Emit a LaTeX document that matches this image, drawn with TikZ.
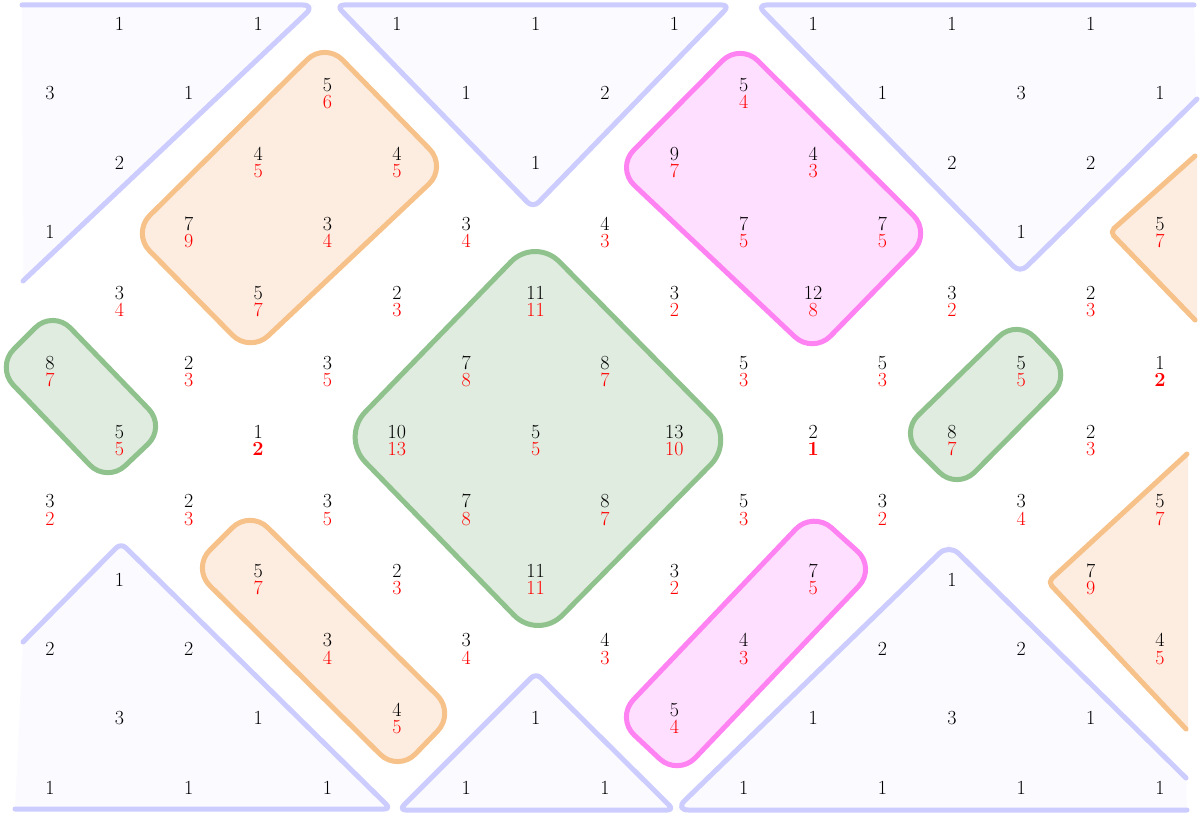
\documentclass[tikz,border=0pt]{standalone}
\definecolor{bS}{RGB}{204,204,255}
\definecolor{bF}{RGB}{250,250,255}
\definecolor{oS}{RGB}{246,194,138}
\definecolor{oF}{RGB}{253,236,224}
\definecolor{mS}{RGB}{255,130,242}
\definecolor{mF}{RGB}{255,223,255}
\definecolor{gS}{RGB}{143,194,140}
\definecolor{gF}{RGB}{224,236,224}
\definecolor{rd}{RGB}{255,0,0}
\tikzset{
  edgeline/.style={line width=3.75pt, line cap=round, line join=round},
  bluereg/.style={edgeline, draw=bS},
  orangereg/.style={edgeline, draw=oS, fill=oF},
  magentareg/.style={edgeline, draw=mS, fill=mF},
  greenreg/.style={edgeline, draw=gS, fill=gF},
  num/.style={inner sep=0pt, text height=9.6pt, text depth=0pt, anchor=center,
    font=\fontsize{15}{17}\selectfont},
  rednum/.style={num, text=rd}
}
\newcommand\onev[3]{\node[num] (n-#1-#2) at ({50+69.375*#2},{24+69.45*#1}) {#3};}
\newcommand\twov[4]{\node[num] (n-#1-#2) at ({50+69.375*#2},{24+69.45*#1-8.6}) {#3};
  \node[rednum] (m-#1-#2) at ({50+69.375*#2},{24+69.45*#1+8.6}) {#4};}
\begin{document}
\begin{tikzpicture}[x=0.75pt,y=-0.75pt]
\useasboundingbox (0,0) rectangle (1203,816);
% blue regions
\fill[bF] (22,5) -- (315,5) -- (23,281) -- cycle;
\draw[bluereg, rounded corners=9pt] (22,5) -- (315,5) -- (23,281);
\draw[bluereg, fill=bF, rounded corners=6pt] (336,5) -- (730,5) -- (533,208) -- cycle;
\fill[bF] (757,5) -- (1194,5) -- (1196,99) -- (1020,273) -- cycle;
\draw[bluereg, rounded corners=7pt] (1194,5) -- (757,5) -- (1020,273) -- (1197,99);
\fill[bF] (23,642) -- (121,543) -- (391,809) -- (15,809) -- cycle;
\draw[bluereg, rounded corners=5pt] (23,642) -- (121,543) -- (391,809) -- (15,809);
\draw[bluereg, fill=bF, rounded corners=5pt] (399,810) -- (536,673) -- (674,810) -- cycle;
\fill[bF] (1186,778) -- (949,544) -- (675,810) -- (1187,810) -- cycle;
\draw[bluereg, rounded corners=10pt] (1186,778) -- (949,544) -- (675,810) -- (1187,810);
% orange regions
\draw[orangereg, rounded corners=18.75pt] (325,42) -- (447,167) -- (250,353) -- (132,233) -- cycle;
\draw[orangereg, rounded corners=18.75pt] (250,510) -- (455,713) -- (398,772) -- (192,568) -- cycle;
\fill[oF] (1197,154) -- (1110,232) -- (1197,323) -- cycle;
\draw[edgeline, draw=oS, rounded corners=4pt] (1195,156) -- (1110,232) -- (1195,320);
\fill[oF] (1188,452) -- (1048,582) -- (1188,732) -- cycle;
\draw[edgeline, draw=oS, rounded corners=4pt] (1187,454) -- (1048,582) -- (1186,729);
% magenta regions
\draw[magentareg, rounded corners=18.75pt] (740,43) -- (931,233) -- (813,354) -- (616,168) -- cycle;
\draw[magentareg, rounded corners=18.75pt] (813,511) -- (876,568) -- (678,776) -- (616,718) -- cycle;
% green regions
\draw[greenreg, rounded corners=18.75pt] (53,310) -- (166,427) -- (107,483) -- (-4,367) -- cycle;
\draw[greenreg, rounded corners=18.75pt] (1017,319) -- (1071,375) -- (957,490) -- (900,433) -- cycle;
\draw[greenreg, rounded corners=26pt] (535,237) -- (735,440) -- (538,640) -- (341,437) -- cycle;
% numbers
\onev{0}{1}{1} \onev{0}{3}{1} \onev{0}{5}{1} \onev{0}{7}{1} \onev{0}{9}{1} \onev{0}{11}{1} \onev{0}{13}{1} \onev{0}{15}{1}
\onev{1}{0}{3} \onev{1}{2}{1} \twov{1}{4}{5}{6} \onev{1}{6}{1} \onev{1}{8}{2} \twov{1}{10}{5}{4} \onev{1}{12}{1} \onev{1}{14}{3} \onev{1}{16}{1}
\onev{2}{1}{2} \twov{2}{3}{4}{5} \twov{2}{5}{4}{5} \onev{2}{7}{1} \twov{2}{9}{9}{7} \twov{2}{11}{4}{3} \onev{2}{13}{2} \onev{2}{15}{2}
\onev{3}{0}{1} \twov{3}{2}{7}{9} \twov{3}{4}{3}{4} \twov{3}{6}{3}{4} \twov{3}{8}{4}{3} \twov{3}{10}{7}{5} \twov{3}{12}{7}{5} \onev{3}{14}{1} \twov{3}{16}{5}{7}
\twov{4}{1}{3}{4} \twov{4}{3}{5}{7} \twov{4}{5}{2}{3} \twov{4}{7}{11}{11} \twov{4}{9}{3}{2} \twov{4}{11}{12}{8} \twov{4}{13}{3}{2} \twov{4}{15}{2}{3}
\twov{5}{0}{8}{7} \twov{5}{2}{2}{3} \twov{5}{4}{3}{5} \twov{5}{6}{7}{8} \twov{5}{8}{8}{7} \twov{5}{10}{5}{3} \twov{5}{12}{5}{3} \twov{5}{14}{5}{5} \twov{5}{16}{1}{\textbf{2}}
\twov{6}{1}{5}{5} \twov{6}{3}{1}{\textbf{2}} \twov{6}{5}{10}{13} \twov{6}{7}{5}{5} \twov{6}{9}{13}{10} \twov{6}{11}{2}{\textbf{1}} \twov{6}{13}{8}{7} \twov{6}{15}{2}{3}
\twov{7}{0}{3}{2} \twov{7}{2}{2}{3} \twov{7}{4}{3}{5} \twov{7}{6}{7}{8} \twov{7}{8}{8}{7} \twov{7}{10}{5}{3} \twov{7}{12}{3}{2} \twov{7}{14}{3}{4} \twov{7}{16}{5}{7}
\onev{8}{1}{1} \twov{8}{3}{5}{7} \twov{8}{5}{2}{3} \twov{8}{7}{11}{11} \twov{8}{9}{3}{2} \twov{8}{11}{7}{5} \onev{8}{13}{1} \twov{8}{15}{7}{9}
\onev{9}{0}{2} \onev{9}{2}{2} \twov{9}{4}{3}{4} \twov{9}{6}{3}{4} \twov{9}{8}{4}{3} \twov{9}{10}{4}{3} \onev{9}{12}{2} \onev{9}{14}{2} \twov{9}{16}{4}{5}
\onev{10}{1}{3} \onev{10}{3}{1} \twov{10}{5}{4}{5} \onev{10}{7}{1} \twov{10}{9}{5}{4} \onev{10}{11}{1} \onev{10}{13}{3} \onev{10}{15}{1}
\onev{11}{0}{1} \onev{11}{2}{1} \onev{11}{4}{1} \onev{11}{6}{1} \onev{11}{8}{1} \onev{11}{10}{1} \onev{11}{12}{1} \onev{11}{14}{1} \onev{11}{16}{1}
\end{tikzpicture}
\end{document}
